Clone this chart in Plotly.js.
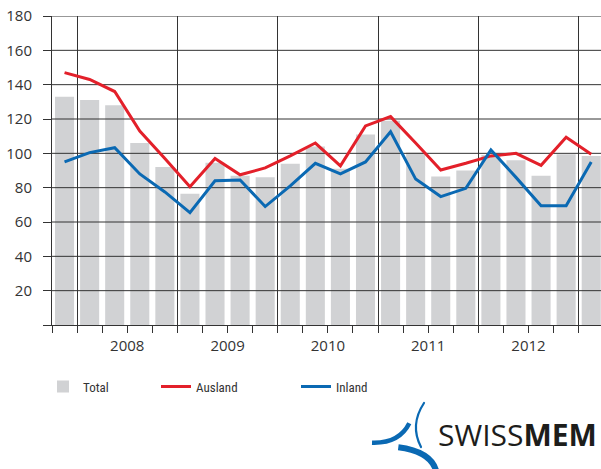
<!DOCTYPE html>
<html>
<head>
<meta charset="utf-8">
<script src="https://cdn.plot.ly/plotly-3.0.1.min.js"></script>
<style>html,body{margin:0;padding:0;background:#fff;overflow:hidden}#chart{width:601px;height:469px}</style>
</head>
<body>
<div id="chart"></div>
<script>
// ---- data ----
const quarters = ['Q4 2007','Q1 2008','Q2 2008','Q3 2008','Q4 2008','Q1 2009','Q2 2009','Q3 2009','Q4 2009',
  'Q1 2010','Q2 2010','Q3 2010','Q4 2010','Q1 2011','Q2 2011','Q3 2011','Q4 2011',
  'Q1 2012','Q2 2012','Q3 2012','Q4 2012','Q1 2013'];
const total   = [133, 131, 128, 106, 92, 76.5, 94.5, 87, 86, 94, 104, 91, 111, 119, 100.5, 86.5, 90, 99, 96, 87, 99.5, 98.5];
const ausland = [147, 143, 136, 113, 97, 80.5, 97, 87.5, 91.5, 98.5, 106, 92.7, 116, 121.4, 106, 90.3, 94.2, 98.5, 100, 93, 109.4, 99.5];
const inland  = [95, 100.4, 103.3, 88, 77.5, 65.5, 84, 84.5, 69, 81, 94.2, 88, 95, 112.6, 85, 74.8, 79.6, 102, 86, 69.5, 69.5, 95];
const years = ['2008', '2009', '2010', '2011', '2012'];
const yTicks = [0, 20, 40, 60, 80, 100, 120, 140, 160, 180];
const yTickText = ['', '20', '40', '60', '80', '100', '120', '140', '160', '180'];
const seriesNames = ['Total', 'Ausland', 'Inland'];

// ---- layout helpers ----
const W = 601, H = 469, ML = 52, MT = 16, MB = 144, MR = 0;
const PW = W - ML - MR, PH = H - MT - MB;
const px = v => (v - ML) / PW;
const py = v => (H - MB - v) / PH;

const idx = quarters.map((q, i) => i);
const xRange = [-0.5, -0.5 + PW / 25.08];
const yearFirstIdx = years.map(y => quarters.findIndex(q => q.endsWith(y)));
const yearBounds = yearFirstIdx.map(i => i - 0.5).concat([yearFirstIdx[yearFirstIdx.length - 1] + 3.5]);
const yearCenters = yearFirstIdx.map(i => i + 1.5);

const gridX = [], gridY = [];
yTicks.filter(v => v > 0).forEach(v => { gridX.push(xRange[0], xRange[1] + 1, null); gridY.push(v, v, null); });

const txt = '#333333';
const fontMain = {family: 'Open Sans, Noto Sans, sans-serif', size: 15, color: txt};
const fontLeg = {family: 'Liberation Sans Narrow, Roboto Condensed, Roboto, sans-serif', size: 13, color: txt};

const traces = [
  {type: 'bar', x: idx, y: total, name: seriesNames[0], marker: {color: '#d1d2d4'}, legend: 'legend', hoverinfo: 'skip'},
  {type: 'scatter', mode: 'lines', x: gridX, y: gridY, xaxis: 'x2', line: {color: '#333', width: 1}, showlegend: false, hoverinfo: 'skip'},
  {type: 'scatter', mode: 'lines', x: idx, y: ausland, name: seriesNames[1], xaxis: 'x2', line: {color: '#e3202a', width: 3}, legend: 'legend2'},
  {type: 'scatter', mode: 'lines', x: idx, y: inland, name: seriesNames[2], xaxis: 'x2', line: {color: '#0a69b3', width: 3}, legend: 'legend3'}
];

const legBase = {orientation: 'h', yanchor: 'middle', xanchor: 'left', y: py(386.5), font: fontLeg, bgcolor: 'rgba(0,0,0,0)', borderwidth: 0, itemwidth: 30};

const logoSvg = '<svg xmlns="http://www.w3.org/2000/svg" width="90" height="80" viewBox="0 0 90 80">' +
  '<path d="M64,8 Q49.5,30 61,52" fill="none" stroke="#0a69b3" stroke-width="2.2" stroke-linecap="round"/>' +
  '<path d="M12,47.7 Q39.2,48.6 49.3,28.3" fill="none" stroke="#0a69b3" stroke-width="4.5"/>' +
  '<path d="M38.3,52.3 Q72.5,56.8 76.7,78" fill="none" stroke="#0a69b3" stroke-width="6"/>' +
  '</svg>';

const layout = {
  width: W, height: H,
  margin: {l: ML, r: MR, t: MT, b: MB, autoexpand: false},
  paper_bgcolor: '#fff', plot_bgcolor: '#fff',
  bargap: 0.24,
  showlegend: true,
  xaxis: {
    range: xRange, tickmode: 'array', tickvals: yearBounds.slice(0, 6), ticktext: yearBounds.slice(0, 6).map(() => ''),
    showgrid: true, gridcolor: '#333', gridwidth: 1, zeroline: false,
    showline: true, linecolor: '#333', linewidth: 1,
    ticks: 'outside', ticklen: 7, tickcolor: '#333', tickwidth: 1,
    minor: {tickmode: 'linear', tick0: 0.5, dtick: 1, ticks: 'outside', ticklen: 7, tickcolor: '#333', tickwidth: 1, showgrid: false},
    fixedrange: true
  },
  xaxis2: {
    overlaying: 'x', anchor: 'y', side: 'bottom', range: xRange,
    tickmode: 'array', tickvals: yearCenters, ticktext: years, ticks: '',
    showgrid: false, zeroline: false, showline: false, tickfont: fontMain, ticklabelstandoff: 10
  },
  yaxis: {
    range: [0, 180], tickmode: 'array', tickvals: yTicks, ticktext: yTickText,
    showgrid: false, zeroline: false, showline: true, linecolor: '#333', linewidth: 1,
    ticks: 'outside', ticklen: 8, tickcolor: '#333', tickwidth: 1,
    tickfont: fontMain, ticklabelstandoff: 8, fixedrange: true
  },
  legend: Object.assign({}, legBase, {x: px(43)}),
  legend2: Object.assign({}, legBase, {x: px(156)}),
  legend3: Object.assign({}, legBase, {x: px(296)}),
  annotations: [{
    xref: 'paper', yref: 'paper', x: px(517), y: py(434), xanchor: 'center', yanchor: 'middle',
    text: 'SWISS<b>MEM</b>', showarrow: false,
    font: {family: 'Open Sans, Noto Sans, sans-serif', size: 30, color: '#1d1d1b'}
  }],
  images: [{
    source: 'data:image/svg+xml;charset=utf-8,' + encodeURIComponent(logoSvg),
    xref: 'paper', yref: 'paper', x: px(360), y: py(395), sizex: 90 / PW, sizey: 80 / PH,
    xanchor: 'left', yanchor: 'top', sizing: 'stretch', layer: 'above'
  }]
};

Plotly.newPlot('chart', traces, layout, {staticPlot: true, displayModeBar: false});
</script>
</body>
</html>
